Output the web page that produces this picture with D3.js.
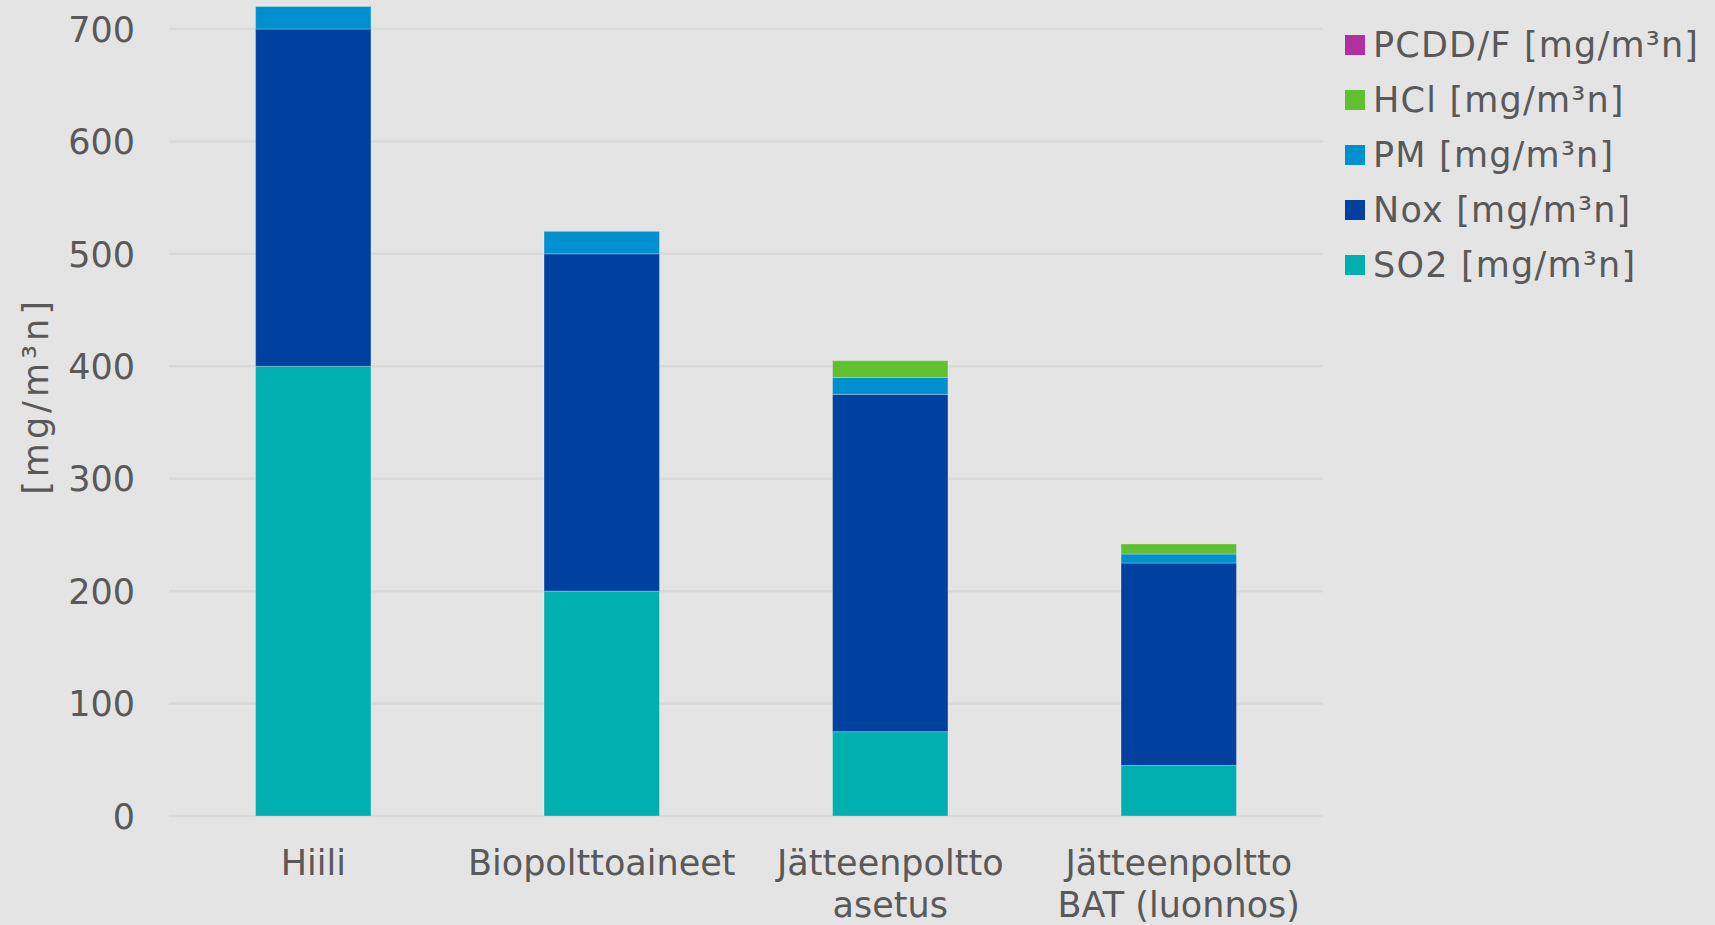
<!DOCTYPE html>
<html><head><meta charset="utf-8">
<script src="https://cdn.jsdelivr.net/npm/d3@7"></script>
<style>html,body{margin:0;padding:0;background:#e4e4e4;}svg{display:block;}</style>
</head><body><svg id="c" width="1715" height="925"></svg>
<script>
const categories = [["Hiili"], ["Biopolttoaineet"], ["Jätteenpoltto", "asetus"], ["Jätteenpoltto", "BAT (luonnos)"]];
const seriesNames = ["SO2 [mg/m³n]", "Nox [mg/m³n]", "PM [mg/m³n]", "HCl [mg/m³n]", "PCDD/F [mg/m³n]"];
const so2 = [400, 200, 75, 45];
const nox = [300, 300, 300, 180];
const pm = [20, 20, 15, 8];
const hcl = [0, 0, 15, 9];
const pcdd = [0, 0, 0.0000001, 0.0000001];
const yTicks = [0, 100, 200, 300, 400, 500, 600, 700];
const colors = ["#00b0b0", "#0041a0", "#0090d0", "#60c030", "#b030a0"];

const seriesValues = [so2, nox, pm, hcl, pcdd];
const rows = categories.map((c, i) => {
  const r = {key: i};
  seriesNames.forEach((s, j) => r[s] = seriesValues[j][i]);
  return r;
});

const svg = d3.select("#c");
const mLeft = 169, mRight = 1323, mTop = 29, mBottom = 816;
const font = "'DejaVu Sans', Verdana, sans-serif";
const textColor = "#595959";

const x = d3.scaleBand().domain(categories.map((c, i) => i)).range([mLeft, mRight]).paddingInner(0.6).paddingOuter(0.3);
const y = d3.scaleLinear().domain([0, 700]).range([mBottom, mTop]);

// gridlines
svg.append("g").selectAll("line").data(yTicks).join("line")
  .attr("x1", mLeft).attr("x2", mRight)
  .attr("y1", d => y(d)).attr("y2", d => y(d))
  .attr("stroke", "#d9d9d9").attr("stroke-width", 2.5);

// y axis labels
const yAxis = d3.axisLeft(y).tickValues(yTicks).tickSize(0).tickPadding(0);
const ya = svg.append("g").attr("transform", `translate(135,0)`).call(yAxis);
ya.select(".domain").remove();
ya.selectAll("text").attr("font-family", font).attr("font-size", 35).attr("fill", textColor).attr("dy", "0.35em");

// stacked bars
const stack = d3.stack().keys(seriesNames)(rows);
svg.append("g").selectAll("g").data(stack).join("g")
  .attr("fill", (d, i) => colors[i])
  .selectAll("rect").data(d => d).join("rect")
  .attr("x", d => x(d.data.key))
  .attr("width", x.bandwidth())
  .attr("y", d => y(d[1]))
  .attr("height", d => Math.max(0, y(d[0]) - y(d[1])))
  .attr("stroke", "rgba(255,255,255,0.25)").attr("stroke-width", 1);

// category labels
const xl = svg.append("g");
categories.forEach((lines, i) => {
  const t = xl.append("text").attr("text-anchor", "middle")
    .attr("font-family", font).attr("font-size", 35).attr("fill", textColor);
  lines.forEach((l, k) => {
    t.append("tspan").attr("x", x(i) + x.bandwidth() / 2).attr("y", 875 + k * 42).text(l);
  });
});

// y axis title
svg.append("text").attr("transform", "translate(36,396) rotate(-90)")
  .attr("text-anchor", "middle").attr("dominant-baseline", "central")
  .attr("font-family", font).attr("font-size", 35).attr("letter-spacing", 4).attr("fill", textColor)
  .text("[mg/m³n]");

// legend (reverse order)
const legendItems = seriesNames.map((s, i) => ({name: s, color: colors[i]})).reverse();
const lg = svg.append("g").selectAll("g").data(legendItems).join("g")
  .attr("transform", (d, i) => `translate(1345,${45 + i * 55})`);
lg.append("rect").attr("x", 0).attr("y", -10).attr("width", 20).attr("height", 20).attr("fill", d => d.color);
lg.append("text").attr("x", 28).attr("y", 0).attr("dy", "0.35em")
  .attr("font-family", font).attr("font-size", 35).attr("letter-spacing", 1.2).attr("fill", textColor).text(d => d.name);
</script></body></html>
